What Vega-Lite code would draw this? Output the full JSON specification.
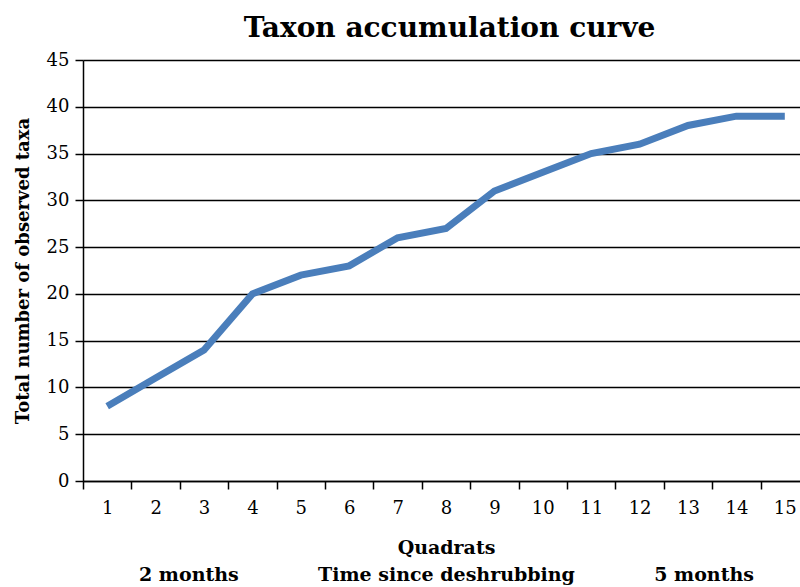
{
  "$schema": "https://vega.github.io/schema/vega-lite/v6.json",
  "autosize": {"type": "none"},
  "width": 717,
  "height": 421,
  "padding": {"left": 83, "top": 60, "right": 0, "bottom": 106},
  "background": "white",
  "title": {
    "text": "Taxon accumulation curve",
    "font": "DejaVu Serif",
    "fontSize": 28,
    "fontWeight": "bold",
    "color": "black",
    "anchor": "middle",
    "offset": 8,
    "dx": 8
  },
  "data": {
    "values": [
      {"quadrat": "1", "taxa": 8},
      {"quadrat": "2", "taxa": 11},
      {"quadrat": "3", "taxa": 14},
      {"quadrat": "4", "taxa": 20},
      {"quadrat": "5", "taxa": 22},
      {"quadrat": "6", "taxa": 23},
      {"quadrat": "7", "taxa": 26},
      {"quadrat": "8", "taxa": 27},
      {"quadrat": "9", "taxa": 31},
      {"quadrat": "10", "taxa": 33},
      {"quadrat": "11", "taxa": 35},
      {"quadrat": "12", "taxa": 36},
      {"quadrat": "13", "taxa": 38},
      {"quadrat": "14", "taxa": 39},
      {"quadrat": "15", "taxa": 39}
    ]
  },
  "mark": {"type": "line", "color": "#4a7ebb", "strokeWidth": 7, "strokeCap": "butt", "strokeJoin": "miter"},
  "encoding": {
    "x": {
      "field": "quadrat",
      "type": "ordinal",
      "sort": null,
      "scale": {"type": "band", "paddingInner": 0, "paddingOuter": 0, "range": [0, 726]},
      "axis": {
        "title": ["Quadrats", "2 months\u00a0\u00a0\u00a0\u00a0\u00a0\u00a0\u00a0\u00a0\u00a0\u00a0\u00a0\u00a0Time since deshrubbing\u00a0\u00a0\u00a0\u00a0\u00a0\u00a0\u00a0\u00a0\u00a0\u00a0\u00a0\u00a05 months"],
        "titleFont": "DejaVu Serif",
        "titleFontSize": 19,
        "titleFontWeight": "bold",
        "titleColor": "black",
        "titleLineHeight": 27,
        "titlePadding": 21,
        "labelFont": "DejaVu Serif",
        "labelFontSize": 18,
        "labelColor": "black",
        "labelAngle": 0,
        "labelPadding": 10,
        "tickBand": "extent",
        "tickSize": 8,
        "tickColor": "black",
        "tickWidth": 1.5,
        "domainColor": "black",
        "domainWidth": 1.5,
        "grid": false
      }
    },
    "y": {
      "field": "taxa",
      "type": "quantitative",
      "scale": {"domain": [0, 45], "nice": false},
      "axis": {
        "title": "Total number of observed taxa",
        "titleFont": "DejaVu Serif",
        "titleFontSize": 18,
        "titleFontWeight": "bold",
        "titleColor": "black",
        "titlePadding": 14,
        "values": [0, 5, 10, 15, 20, 25, 30, 35, 40, 45],
        "labelFont": "DejaVu Serif",
        "labelFontSize": 18,
        "labelColor": "black",
        "labelPadding": 6,
        "tickSize": 8,
        "tickColor": "black",
        "tickWidth": 1.5,
        "domainColor": "black",
        "domainWidth": 1.5,
        "grid": true,
        "gridColor": "black",
        "gridWidth": 1.5,
        "gridOpacity": 1
      }
    }
  },
  "config": {"view": {"stroke": null}}
}
